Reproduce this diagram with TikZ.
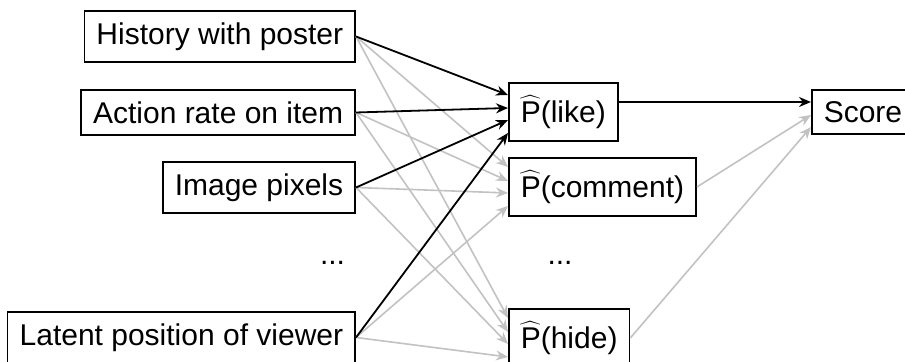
\documentclass[tikz,border=0pt]{standalone}
\usepackage{fontspec}
\setmainfont{Liberation Sans}
\usepackage{tikz}
\usetikzlibrary{arrows.meta}
\definecolor{edge-gray}{gray}{0.76}
\tikzset{
    feature-box/.style = {draw=black, line width=0.8pt, rectangle, inner xsep=6pt, inner ysep=5.8pt, anchor=east, font=\fontsize{15}{18}\selectfont},
    pred-box/.style = {feature-box, anchor=west, minimum height=29pt},
    strong-edge/.style = {draw=black, line width=0.9pt, -{Stealth[length=6pt, width=5pt]}},
    weak-edge/.style = {draw=edge-gray, line width=0.8pt, -{Stealth[length=6pt, width=5pt]}},
    dots-label/.style = {inner sep=0pt, font=\fontsize{15}{18}\selectfont},
}
\newcommand{\phat}[1]{$\widehat{\mbox{P}}\mbox{(#1)}$}

\begin{document}
\begin{tikzpicture}[x=1pt, y=1pt]
\useasboundingbox (0,0) rectangle (452.5,181);
% inputs
\node[feature-box] (hist) at (178,162.75) {History with poster};
\node[feature-box] (act) at (178,124.75) {Action rate on item};
\node[feature-box] (img) at (178,87.25) {Image pixels};
\node[dots-label] (in-dots) at (166.25,49.5) {...};
\node[feature-box] (lat) at (178,12.25) {Latent position of viewer};
% predictions
\node[pred-box] (like) at (254,125) {\phat{like}};
\node[pred-box] (comment) at (254,87.5) {\phat{comment}};
\node[dots-label] (pred-dots) at (280,49.5) {...};
\node[pred-box] (hide) at (254,12) {\phat{hide}};
\node[pred-box, minimum height=0pt] (score) at (405.5,125) {Score};
% edges
\foreach \dst in {comment, hide}
  \foreach \src/\dy in {hist/10, act/3, img/-3, lat/-9.5}
    \draw[weak-edge] (\src.east) -- ([yshift=\dy pt]\dst.west);
\draw[weak-edge] (comment.east) -- ([yshift=-1.5pt]score.west);
\draw[weak-edge] (hide.east) -- ([yshift=-7.5pt]score.west);
\foreach \src/\dy in {hist/8.5, act/2, img/-4, lat/-10.5}
  \draw[strong-edge] (\src.east) -- ([yshift=\dy pt]like.west);
\draw[strong-edge] ([yshift=5pt]like.east) -- ([yshift=5pt]score.west);
\end{tikzpicture}
\end{document}
